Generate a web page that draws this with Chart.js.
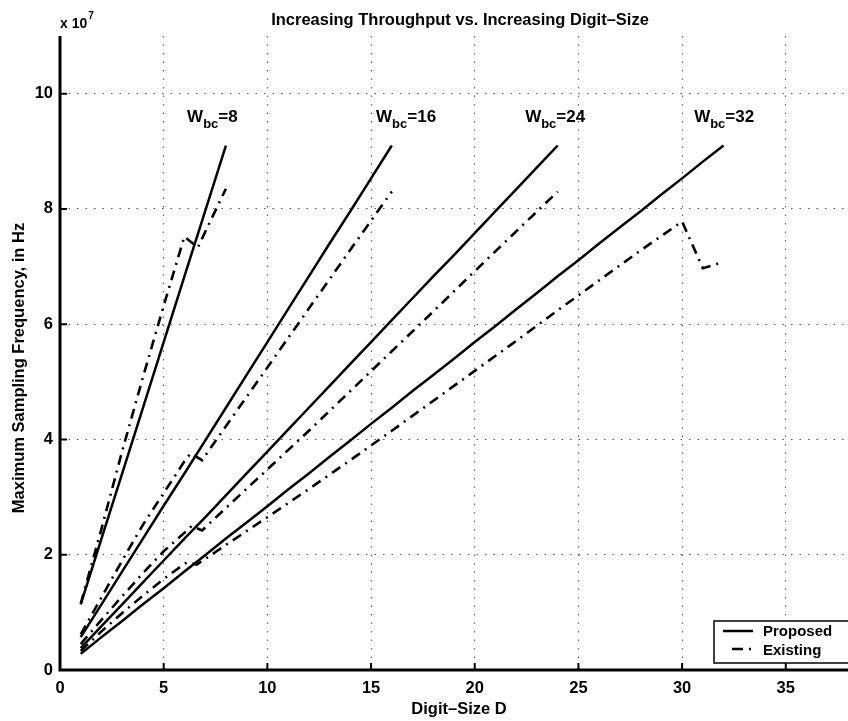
<!DOCTYPE html>
<html><head><meta charset="utf-8">
<script src="https://cdn.jsdelivr.net/npm/chart.js@4.4.1/dist/chart.umd.min.js"></script>
<style>html,body{margin:0;padding:0;background:#fff;} #wrap{width:848px;height:721px;position:relative;}</style>
</head><body><div id="wrap"><canvas id="c"></canvas></div>
<script>
// ---------- text ----------
const chartTitle = 'Increasing Throughput vs. Increasing Digit\u2013Size';
const xAxisTitle = 'Digit\u2013Size D';
const yAxisTitle = 'Maximum Sampling Frequency, in Hz';
const yExponentBase = 'x 10';
const yExponent = '7';
const seriesNames = ['Proposed', 'Existing'];
const wordWidths = [8, 16, 24, 32];

// ---------- ticks ----------
const xTicks = [0, 5, 10, 15, 20, 25, 30, 35];
const yTicks = [0, 2, 4, 6, 8, 10];

// ---------- data (frequency in units of 1e7 Hz) ----------
const proposed8D  = [1, 2, 3, 4, 5, 6, 7, 8];
const proposed8F  = [1.14, 2.28, 3.41, 4.55, 5.69, 6.83, 7.96, 9.10];
const proposed16D = [1, 2, 3, 4, 5, 6, 7, 8, 9, 10, 11, 12, 13, 14, 15, 16];
const proposed16F = [0.57, 1.14, 1.71, 2.28, 2.85, 3.41, 3.98, 4.55, 5.12, 5.69, 6.26, 6.83, 7.40, 7.96, 8.53, 9.10];
const proposed24D = [1, 2, 3, 4, 5, 6, 7, 8, 9, 10, 11, 12, 13, 14, 15, 16, 17, 18, 19, 20, 21, 22, 23, 24];
const proposed24F = [0.38, 0.76, 1.14, 1.52, 1.90, 2.28, 2.65, 3.03, 3.41, 3.79, 4.17, 4.55, 4.93, 5.31, 5.69, 6.07, 6.45, 6.83, 7.20, 7.58, 7.96, 8.34, 8.72, 9.10];
const proposed32D = [1, 2, 3, 4, 5, 6, 7, 8, 9, 10, 11, 12, 13, 14, 15, 16, 17, 18, 19, 20, 21, 22, 23, 24, 25, 26, 27, 28, 29, 30, 31, 32];
const proposed32F = [0.28, 0.57, 0.85, 1.14, 1.42, 1.71, 1.99, 2.28, 2.56, 2.84, 3.13, 3.41, 3.70, 3.98, 4.27, 4.55, 4.84, 5.12, 5.40, 5.69, 5.97, 6.26, 6.54, 6.83, 7.11, 7.40, 7.68, 7.96, 8.25, 8.53, 8.82, 9.10];

const existing8D  = [1, 2, 3, 4, 5, 6, 6.65, 7, 8];
const existing8F  = [1.15, 2.45, 3.80, 5.08, 6.32, 7.52, 7.33, 7.60, 8.35];
const existing16D = [1, 2, 3, 4, 5, 6, 6.3, 6.85, 8, 10, 12, 14, 16];
const existing16F = [0.62, 1.26, 1.90, 2.52, 3.07, 3.62, 3.76, 3.64, 4.23, 5.25, 6.27, 7.29, 8.30];
const existing24D = [1, 2, 3, 4, 5, 6, 6.35, 6.85, 8, 10, 12, 14, 16, 18, 20, 22, 24];
const existing24F = [0.45, 0.87, 1.28, 1.68, 2.06, 2.38, 2.50, 2.42, 2.81, 3.48, 4.15, 4.84, 5.53, 6.22, 6.92, 7.61, 8.30];
const existing32D = [1, 2, 3, 4, 5, 6, 6.15, 6.6, 8, 10, 12, 14, 16, 18, 20, 22, 24, 26, 28, 30, 31, 32];
const existing32F = [0.33, 0.67, 0.99, 1.29, 1.58, 1.84, 1.87, 1.83, 2.17, 2.65, 3.14, 3.64, 4.15, 4.67, 5.19, 5.71, 6.24, 6.76, 7.28, 7.78, 6.97, 7.08];

// ---------- build ----------
const zip = (xs, ys) => xs.map((x, i) => ({x: x, y: ys[i]}));
const proposedSets = [[proposed8D, proposed8F], [proposed16D, proposed16F], [proposed24D, proposed24F], [proposed32D, proposed32F]];
const existingSets = [[existing8D, existing8F], [existing16D, existing16F], [existing24D, existing24F], [existing32D, existing32F]];

const datasets = [];
proposedSets.forEach((s, i) => datasets.push({
  label: seriesNames[0] + ' W=' + wordWidths[i], data: zip(s[0], s[1]),
  borderColor: '#000', borderWidth: 2.5, pointRadius: 0, showLine: true, tension: 0
}));
existingSets.forEach((s, i) => datasets.push({
  label: seriesNames[1] + ' W=' + wordWidths[i], data: zip(s[0], s[1]),
  borderColor: '#000', borderWidth: 2.6, pointRadius: 0, showLine: true, tension: 0,
  borderDash: [10, 6, 2, 6]
}));

const FONT = '"Liberation Sans", Arial, Helvetica, sans-serif';

const decor = {
  id: 'decor',
  afterDraw(chart) {
    const ctx = chart.ctx, a = chart.chartArea;
    const xs = chart.scales.x, ys = chart.scales.y;
    ctx.save();
    ctx.fillStyle = '#000'; ctx.strokeStyle = '#000';
    // axes
    ctx.lineWidth = 3; ctx.setLineDash([]);
    ctx.beginPath();
    ctx.moveTo(a.left, a.top); ctx.lineTo(a.left, a.bottom + 1.5);
    ctx.moveTo(a.left - 1.5, a.bottom); ctx.lineTo(a.right, a.bottom);
    ctx.stroke();
    // inward ticks
    ctx.lineWidth = 2;
    ctx.beginPath();
    xTicks.forEach(v => { if (v === 0) return; const p = xs.getPixelForValue(v); ctx.moveTo(p, a.bottom); ctx.lineTo(p, a.bottom - 7); });
    yTicks.forEach(v => { if (v === 0) return; const p = ys.getPixelForValue(v); ctx.moveTo(a.left, p); ctx.lineTo(a.left + 7, p); });
    ctx.stroke();

    // title
    ctx.font = 'bold 16.5px ' + FONT;
    ctx.textAlign = 'center'; ctx.textBaseline = 'alphabetic';
    ctx.fillText(chartTitle, 460, 25);
    // x title
    ctx.fillText(xAxisTitle, 459, 714);
    // y title
    ctx.save();
    ctx.translate(24, 368); ctx.rotate(-Math.PI / 2);
    ctx.fillText(yAxisTitle, 0, 0);
    ctx.restore();
    // exponent
    ctx.textAlign = 'left';
    ctx.font = 'bold 14px ' + FONT;
    ctx.fillText(yExponentBase, 60, 28);
    let ew = ctx.measureText(yExponentBase).width;
    ctx.font = 'bold 10px ' + FONT;
    ctx.fillText(yExponent, 60 + ew + 1, 19);

    // W_bc annotations
    const labelX = [6.13, 15.24, 22.43, 30.58];
    const labelY = 9.51;
    wordWidths.forEach((w, i) => {
      let x = xs.getPixelForValue(labelX[i]);
      const y = ys.getPixelForValue(labelY);
      ctx.font = 'bold 17px ' + FONT;
      ctx.fillText('W', x, y); x += ctx.measureText('W').width;
      ctx.font = 'bold 13px ' + FONT;
      ctx.fillText('bc', x, y + 6); x += ctx.measureText('bc').width;
      ctx.font = 'bold 17px ' + FONT;
      ctx.fillText('=' + w, x, y);
    });

    // legend
    const lx = 714, ly = 621, lw = 150, lh = 42;
    ctx.fillStyle = '#fff';
    ctx.fillRect(lx, ly, lw, lh);
    ctx.lineWidth = 1.5; ctx.strokeStyle = '#000';
    ctx.strokeRect(lx, ly, lw, lh);
    ctx.lineWidth = 2.5;
    ctx.beginPath(); ctx.moveTo(723, 631); ctx.lineTo(753, 631); ctx.stroke();
    ctx.beginPath(); ctx.moveTo(732, 649); ctx.lineTo(743, 649); ctx.moveTo(749, 649); ctx.lineTo(751, 649); ctx.stroke();
    ctx.fillStyle = '#000';
    ctx.font = 'bold 15px ' + FONT;
    ctx.fillText(seriesNames[0], 763, 636);
    ctx.fillText(seriesNames[1], 763, 655);
    ctx.restore();
  }
};

new Chart(document.getElementById('c'), {
  type: 'scatter',
  data: { datasets: datasets },
  options: {
    responsive: true, maintainAspectRatio: false, animation: false,
    layout: { padding: { top: 36, left: 0, right: 0, bottom: 0 } },
    plugins: { legend: { display: false }, tooltip: { enabled: false }, title: { display: false } },
    scales: {
      x: {
        type: 'linear', min: 0, max: 38,
        afterBuildTicks: s => { s.ticks = xTicks.map(v => ({value: v})); },
        afterFit: s => { s.height = 51; },
        ticks: { color: '#000', font: { family: FONT, size: 16.5, weight: 'bold' }, padding: 9, maxRotation: 0, autoSkip: false },
        grid: { color: '#555', lineWidth: 1, drawTicks: false, tickLength: 0 },
        border: { display: false, dash: [1.5, 7] }
      },
      y: {
        type: 'linear', min: 0, max: 11,
        afterBuildTicks: s => { s.ticks = yTicks.map(v => ({value: v})); },
        afterFit: s => { s.width = 60; },
        ticks: { color: '#000', font: { family: FONT, size: 16.5, weight: 'bold' }, padding: 7 },
        grid: { color: '#555', lineWidth: 1, drawTicks: false, tickLength: 0 },
        border: { display: false, dash: [1.5, 7] }
      }
    }
  },
  plugins: [decor]
});
</script>
</body></html>
